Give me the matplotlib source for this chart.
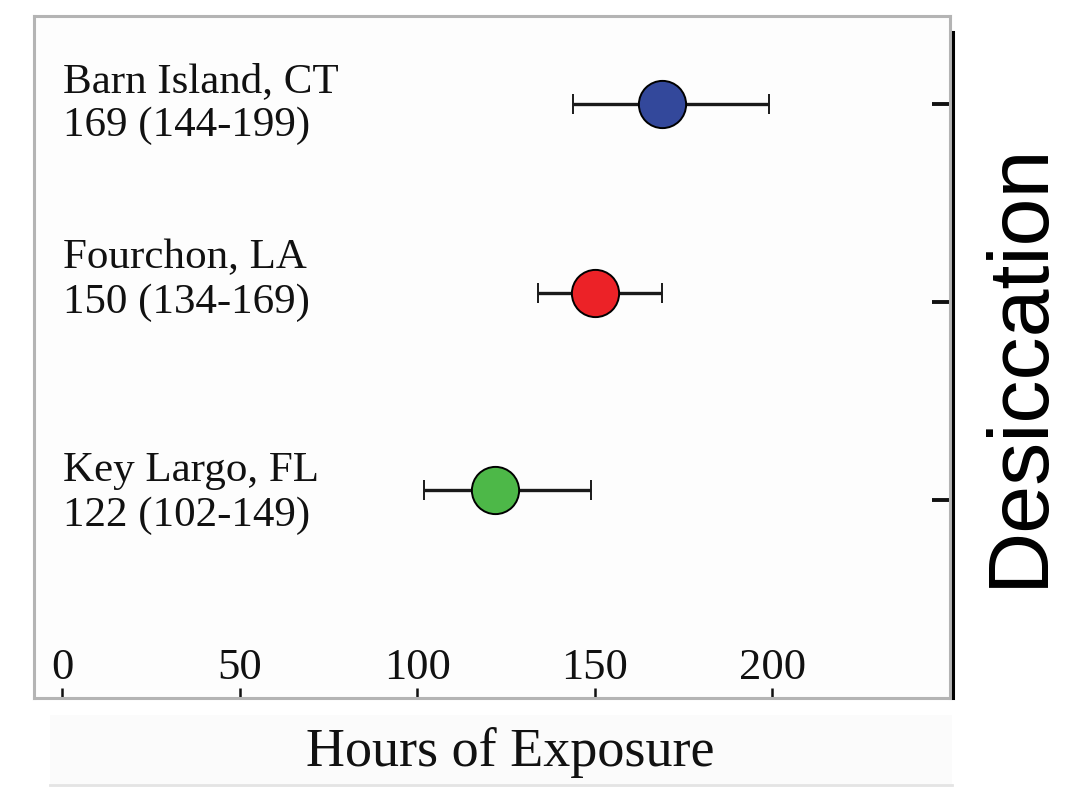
import matplotlib.pyplot as plt
from matplotlib.patches import Rectangle
from matplotlib.lines import Line2D

# data
sites = ["Barn Island, CT", "Fourchon, LA", "Key Largo, FL"]
medians = [169, 150, 122]
lower = [144, 134, 102]
upper = [199, 169, 149]
colors = ["#33489b", "#ec2227", "#4db848"]
xticks = [0, 50, 100, 150, 200]

# row layout (ticks at 3,2,1; markers and labels nudged like the original)
rows = [3, 2, 1]
marker_y = [3.0, 2.045, 1.05]
label_y = [3.0, 2.11, 1.035]

W, H = 1079, 795
fig = plt.figure(figsize=(W / 100, H / 100), dpi=100)
fig.patch.set_facecolor("white")

# light band behind the x label
fig.patches.append(Rectangle((50 / W, 1 - 785 / H), 902 / W, 70 / H,
                             transform=fig.transFigure, facecolor="#fbfbfb",
                             edgecolor="none", zorder=0))
fig.lines.append(Line2D([50 / W, 952 / W], [1 - 785 / H, 1 - 785 / H],
                        transform=fig.transFigure, color="#e4e4e4", lw=2))

ax = fig.add_axes([34 / W, 1 - 698 / H, (950 - 34) / W, (698 - 16) / H])
ax.set_facecolor("#fdfdfd")
ax.set_xlim(-7.9, 250.1)
ax.set_ylim(0, 3.444)

for spine in ax.spines.values():
    spine.set_color("#b4b4b4")
    spine.set_linewidth(2.2)

# black right axis line
fig.lines.append(Line2D([953 / W, 953 / W], [1 - 698 / H, 1 - 32 / H],
                        transform=fig.transFigure, color="black", lw=2.2))

for i in range(len(sites)):
    m = medians[i]
    ax.errorbar(m, marker_y[i], xerr=[[m - lower[i]], [upper[i] - m]],
                fmt="o", color="#1a1a1a", ecolor="#1a1a1a", elinewidth=2.4,
                capsize=7.5, capthick=2.4, markersize=34,
                markerfacecolor=colors[i], markeredgecolor="black",
                markeredgewidth=1.4, zorder=3)
    ax.text(0.2, label_y[i], "%s\n%d (%d-%d)" % (sites[i], m, lower[i], upper[i]),
            ha="left", va="center", fontsize=31, family="Liberation Serif",
            linespacing=1.2, color="#111111")

ax.set_xticks(xticks)
ax.set_xticklabels([str(t) for t in xticks], family="Liberation Serif",
                   fontsize=32, color="#111111")
ax.tick_params(axis="x", direction="in", length=7, width=1.8, color="#111111",
               pad=-36)
ax.set_yticks(rows)
ax.yaxis.tick_right()
ax.tick_params(axis="y", direction="in", length=13, width=2.8, color="#111111",
               labelright=False, labelleft=False)

fig.text(510 / W, 1 - 752 / H, "Hours of Exposure", ha="center", va="center",
         fontsize=39, family="Liberation Serif", color="#111111")
fig.text(1020 / W, 1 - 364 / H, "Desiccation", rotation=90, ha="center",
         va="center", fontsize=62, family="Liberation Sans", color="black")

fig.savefig("out.png", dpi=100)
